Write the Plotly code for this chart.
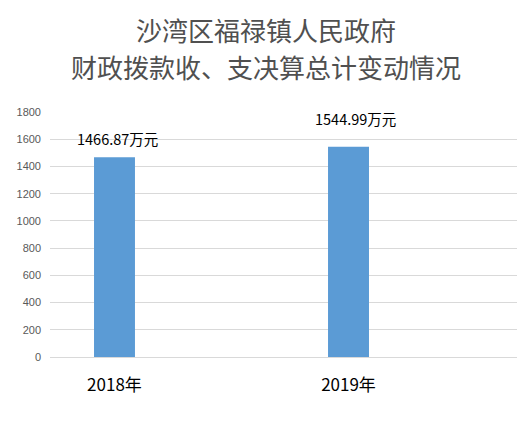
import plotly.graph_objects as go

title_lines = ["沙湾区福禄镇人民政府", "财政拨款收、支决算总计变动情况"]
categories = ["2018年", "2019年"]
values = [1466.87, 1544.99]
label_texts = ["1466.87万元", "1544.99万元"]
y_ticks = [0, 200, 400, 600, 800, 1000, 1200, 1400, 1600, 1800]

xpos = list(range(len(categories)))

fig = go.Figure()
fig.add_trace(go.Bar(
    x=xpos, y=values, width=0.175,
    marker=dict(color="#5B9BD5", line=dict(width=0)),
    hoverinfo="skip",
))

shifts = [(3, 19), (7, 28)]
for i, (v, t) in enumerate(zip(values, label_texts)):
    fig.add_annotation(x=xpos[i], y=v, text=t, showarrow=False,
                       xshift=shifts[i][0], yshift=shifts[i][1],
                       font=dict(family="Noto Sans CJK SC, Liberation Sans", size=14.5, color="#000000"))

for line, ypaper in zip(title_lines, [1.3347, 1.1837]):
    fig.add_annotation(x=0.4625, xref="paper", y=ypaper, yref="paper", yanchor="middle",
                       text=line, showarrow=False,
                       font=dict(family="Noto Sans CJK SC", size=26, color="#505050"))

fig.update_layout(
    width=524, height=415,
    margin=dict(l=42, r=15, t=104, b=66),
    paper_bgcolor="white", plot_bgcolor="white",
    showlegend=False,
    xaxis=dict(
        range=[-0.2756, 1.72],
        tickmode="array", tickvals=xpos, ticktext=categories,
        showgrid=False, zeroline=False, showline=False, ticks="",
        ticklabelstandoff=16, automargin=False,
        tickfont=dict(family="Noto Sans CJK SC, Liberation Sans", size=17, color="#000000"),
        fixedrange=True,
    ),
    yaxis=dict(
        range=[0, 1800],
        tickmode="array", tickvals=y_ticks,
        showgrid=True, gridcolor="#D9D9D9", gridwidth=1,
        zeroline=True, zerolinecolor="#D9D9D9", zerolinewidth=1,
        showline=False, ticks="",
        ticklabelstandoff=8, automargin=False,
        tickfont=dict(family="Liberation Sans", size=11, color="#595959"),
        fixedrange=True,
    ),
)

fig.write_html("out.html")
